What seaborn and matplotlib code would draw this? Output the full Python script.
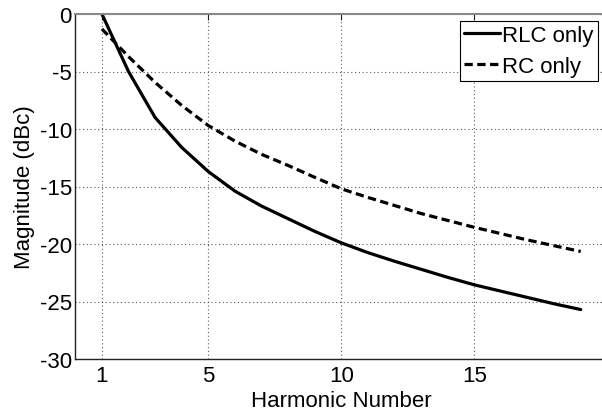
import matplotlib
matplotlib.use("Agg")
import matplotlib.pyplot as plt
import seaborn as sns
import numpy as np
import pandas as pd

# ---- data ----
harmonics = list(range(1, 20))
rlc_only = [0.0, -5.0, -9.0, -11.6, -13.7, -15.4, -16.7, -17.8, -18.9, -19.9,
            -20.75, -21.5, -22.2, -22.9, -23.55, -24.1, -24.65, -25.2, -25.7]
rc_only = [-1.3, -3.7, -5.95, -7.95, -9.7, -11.05, -12.2, -13.17, -14.2, -15.2,
           -15.95, -16.65, -17.35, -17.95, -18.55, -19.1, -19.65, -20.15, -20.65]
series_names = ["RLC only", "RC only"]
x_ticks = [1, 5, 10, 15]
y_ticks = [0, -5, -10, -15, -20, -25, -30]
x_label = "Harmonic Number"
y_label = "Magnitude (dBc)"

df_rlc = pd.DataFrame({"h": harmonics, "mag": rlc_only})
df_rc = pd.DataFrame({"h": harmonics, "mag": rc_only})

sns.set_style("white")
plt.rcParams["font.family"] = ["Liberation Sans", "DejaVu Sans"]

FS = 16
W, H = 602, 414
fig = plt.figure(figsize=(W / 100, H / 100), dpi=100)
# axes box in pixel coordinates (right side extends beyond the figure)
left_px, top_px, bottom_px = 75.3, 15.0, 360.0
xmin, xmax = 0, 20
px_per_unit = 26.6
width_px = (xmax - xmin) * px_per_unit
ax = fig.add_axes([left_px / W, (H - bottom_px) / H, width_px / W, (bottom_px - top_px) / H])

sns.lineplot(data=df_rlc, x="h", y="mag", ax=ax, color="black", linewidth=2.3,
             label=series_names[0], sort=True)
sns.lineplot(data=df_rc, x="h", y="mag", ax=ax, color="black", linewidth=2.3,
             linestyle=(0, (2.6, 1.4)), label=series_names[1], sort=True)

ax.set_xlim(xmin, xmax)
ax.set_ylim(-30, 0)
ax.set_xticks(x_ticks)
ax.set_yticks(y_ticks)
ax.set_xticklabels([str(t) for t in x_ticks])
ax.set_yticklabels([str(t) for t in y_ticks])

ax.grid(True, color="#333333", linestyle=(0, (1, 2.4)), linewidth=0.8, alpha=0.8)
ax.set_axisbelow(True)

for side in ["left", "bottom"]:
    ax.spines[side].set_color("#222222")
    ax.spines[side].set_linewidth(1.0)
ax.spines["top"].set_color("#888888")
ax.spines["top"].set_linewidth(1.5)
ax.spines["right"].set_visible(False)

ax.tick_params(axis="both", direction="in", length=4.3, width=0.8, color="#222222",
               labelsize=FS, labelcolor="black", top=True, right=True)
ax.tick_params(axis="x", pad=4)
ax.tick_params(axis="y", pad=2.5)

ax.set_xlabel(x_label, fontsize=FS, color="black", labelpad=3)
ax.set_ylabel(y_label, fontsize=FS, color="black", labelpad=3)

leg = ax.legend(loc="upper left", bbox_to_anchor=(459.5 / W, 1 - 21.5 / H),
                bbox_transform=fig.transFigure, borderaxespad=0,
                fontsize=FS, frameon=True, fancybox=False, edgecolor="black",
                framealpha=1, handlelength=1.6, handletextpad=0.1,
                labelspacing=0.45, borderpad=0.2)
leg.get_frame().set_linewidth(0.8)
for t in leg.get_texts():
    t.set_color("black")

fig.savefig("out.png", dpi=100)
